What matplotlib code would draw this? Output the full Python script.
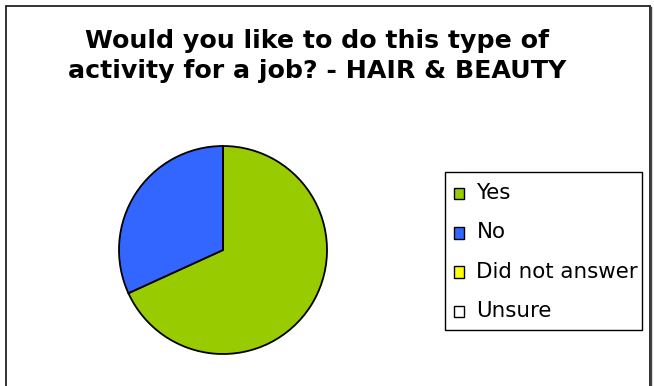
import matplotlib
matplotlib.use("Agg")
import matplotlib.pyplot as plt
from matplotlib.lines import Line2D
from matplotlib.patches import Rectangle, Wedge
from matplotlib.legend_handler import HandlerPatch

# Survey responses
categories = ["Yes", "No", "Did not answer", "Unsure"]
responses = [15, 7, 0, 0]
colors = ["#99CC00", "#3366FF", "#FFFF00", "#FFFFFF"]
title_lines = ["Would you like to do this type of",
               "activity for a job? - HAIR & BEAUTY"]

W, H = 654, 386
fig = plt.figure(figsize=(W / 100, H / 100), dpi=100)
fig.patch.set_facecolor("white")

# chart frame (open at the bottom edge)
fig.add_artist(Line2D([6 / W, 6 / W, 650 / W, 650 / W],
                      [0, 1 - 6 / H, 1 - 6 / H, 0],
                      transform=fig.transFigure, color="#222222",
                      linewidth=1.3, solid_joinstyle="miter"))
fig.add_artist(Line2D([651 / W, 651 / W], [0, 1 - 7 / H],
                      transform=fig.transFigure, color="#444444",
                      linewidth=1.0))

# title
for text, base in zip(title_lines, (48, 78)):
    fig.text(317 / W, 1 - base / H, text, ha="center", va="baseline",
             fontsize=18.2, fontweight="bold", family="DejaVu Sans")

# pie
cx, cy, r = 223, 250, 104
ax = fig.add_axes([(cx - r) / W, (H - cy - r) / H, 2 * r / W, 2 * r / H])
wedges, _ = ax.pie(responses, colors=colors, startangle=90, counterclock=False,
                   wedgeprops=dict(edgecolor="black", linewidth=1.3))
ax.set_xlim(-1.0, 1.0)
ax.set_ylim(-1.0, 1.0)
ax.set_aspect("equal")
ax.axis("off")

# legend box
fig.add_artist(Rectangle((445 / W, 1 - 330 / H), 197 / W, 158 / H,
                         transform=fig.transFigure, facecolor="white",
                         edgecolor="black", linewidth=1.0, zorder=1))


def square_key(legend, orig_handle, xdescent, ydescent, width, height, fontsize):
    # small square sitting on the text baseline
    return Rectangle((-xdescent, -ydescent - 1.6), width, height)


# legend entries
leg = fig.legend(wedges, categories, loc="upper left",
                 bbox_to_anchor=(454 / W, 1 - 183 / H),
                 bbox_transform=fig.transFigure,
                 prop=dict(family="DejaVu Sans", size=15.4),
                 handlelength=0.45, handleheight=0.45, handletextpad=0.6,
                 labelspacing=0.9, borderpad=0, borderaxespad=0,
                 frameon=False,
                 handler_map={Wedge: HandlerPatch(patch_func=square_key)})
leg.set_zorder(2)
for h in leg.legend_handles:
    h.set_edgecolor("black")
    h.set_linewidth(1.0)

fig.savefig("out.png", dpi=100, facecolor="white")
